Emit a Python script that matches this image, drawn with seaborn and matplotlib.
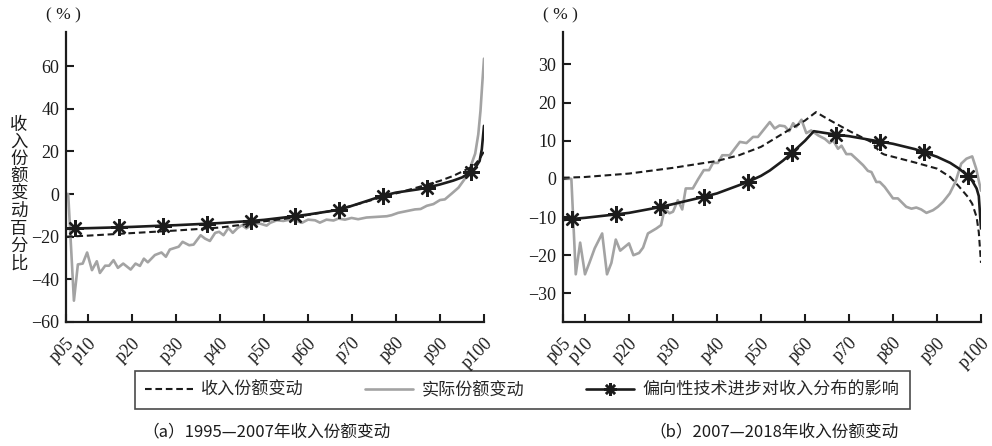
import numpy as np
import pandas as pd
import matplotlib
matplotlib.use('Agg')
import matplotlib.pyplot as plt
from matplotlib.lines import Line2D
import seaborn as sns

sns.set_style('ticks')
plt.rcParams.update({'font.family'      : ['Liberation Serif', 'DejaVu Serif', 'Noto Sans CJK SC'],
                     'font.size'        : 12,
                     'axes.linewidth'   : 1.6,
                     'axes.unicode_minus': True})
serif = ['Liberation Serif', 'DejaVu Serif']
cjk = ['Noto Sans CJK SC', 'Liberation Serif']

# ---- data (percentile, % change) ----
# (a) 1995-2007
a_share_p = [5, 7, 10, 15, 20, 25, 30, 35, 40, 45, 50, 55, 60, 65, 70, 75, 80, 85, 90, 93, 95, 97, 98, 99, 100]
a_share_v = [-20, -19.8, -19.5, -18.9, -18.3, -17.7, -17.1, -16.4, -15.7, -14.4, -12.8, -11.5, -9.8, -8,
             -5.5, -2.5, 0.3, 3.2, 6.2, 8.5, 10.5, 12.5, 14, 16.5, 20]

a_real_p = [5, 5.5, 6.8, 7.7, 8.8, 9.8, 10.9, 12, 12.7, 13.9, 14.8, 15.8, 16.8, 18, 19.7, 20.8, 21.8, 22.7,
            23.6, 25.2, 26.7, 27.7, 28.6, 30.6, 31.5, 33, 34, 35.6, 36.6, 37.7, 38.9, 39.8, 40.8, 41.9,
            42.9, 44, 45, 46, 47.6, 49, 50.6, 51.4, 52.9, 54.4, 55.9, 57.4, 58.6, 60, 61.6, 62.7, 64.2,
            65.8, 66.9, 68.4, 69.9, 71.4, 73.3, 75.6, 77.9, 79, 80.5, 82.4, 84.3, 85.6, 87, 88.5, 90,
            91.1, 92.7, 94.2, 95.7, 96.8, 98, 98.7, 99.2, 99.6, 100]
a_real_v = [0, 0, -50, -33, -32.6, -27.4, -35.7, -31.5, -37, -33.6, -33.6, -31, -34.6, -32.6, -35.4, -32.6,
            -33.7, -30.3, -32, -28.6, -27.4, -29.4, -26, -24.7, -22.4, -24, -23.7, -19.3, -20.9, -22,
            -18.2, -17.7, -19.3, -15.9, -18.2, -15.9, -14.6, -16.1, -13.8, -13.8, -14.8, -13.5, -12.3,
            -12.6, -12, -12.6, -13.5, -12, -12.3, -13.4, -12, -12.4, -11.5, -12, -11.2, -11.8, -11, -10.7,
            -10.4, -9.9, -8.8, -8, -7.2, -7, -5.5, -4.7, -2.8, -2.5, 0.3, 3, 7.3, 12, 19, 28, 39, 51.6, 63.5]

a_tech_p = [5, 7, 10, 17, 20, 27, 30, 37, 40, 47, 50, 57, 60, 67, 70, 73, 77, 80, 85, 87, 90, 93, 95, 97,
            98, 99, 99.5, 100]
a_tech_v = [-16.3, -16.1, -16, -15.6, -15.4, -14.8, -14.6, -13.9, -13.6, -12.6, -12.1, -10.4, -9.6, -7.4,
            -5.5, -3.5, -0.8, 0.7, 2.2, 3, 4.5, 6.3, 7.8, 10.3, 12.3, 15.5, 21, 32]

# (b) 2007-2018
b_share_p = [5, 10, 20, 30, 40, 45, 50, 55, 60, 62.5, 65, 70, 75, 76, 77, 78, 80, 85, 90, 93, 95, 97, 98,
             99, 99.5, 100]
b_share_v = [0.3, 0.5, 1.4, 2.9, 4.7, 6.2, 8.4, 11.9, 15.3, 17.5, 15.8, 12.6, 9.7, 8.5, 7, 6.4, 5.8, 4.3,
             2.7, 0.5, -2, -4.7, -6.5, -10, -14, -22]

b_real_p = [5, 6.9, 7.9, 8.9, 10, 11, 12.2, 13.9, 15, 16, 17, 18, 20, 21, 22.3, 23.2, 24.3, 26.2, 27.3,
            28.1, 29.2, 30, 31.1, 32.1, 32.9, 34.5, 35.7, 37, 38.2, 39.1, 40.2, 41.2, 42.9, 45.2, 46.7,
            48.2, 49.3, 52, 53.1, 54.2, 55.4, 56.4, 57.3, 58, 59.2, 60.3, 61.4, 63, 64.5, 65.6, 66.4,
            67.5, 68.3, 69.4, 70.5, 72, 73.2, 74.3, 75.1, 76.2, 77, 78.1, 80, 81.1, 83, 84.2, 85.3, 86.4,
            87.6, 89.1, 90.2, 91.4, 92.9, 94.2, 95.5, 96.7, 98, 98.9, 100]
b_real_v = [0.3, 0, -25, -16.7, -25, -22, -18.2, -14.3, -25, -22, -15.9, -18.8, -16.9, -20, -19.4, -18,
            -14.3, -13, -12.1, -7.8, -9, -8.6, -5.6, -8, -2.5, -2.5, -0.1, 2.3, 2.3, 4.2, 4.2, 6.2, 6.2,
            9.7, 9.4, 11, 11, 14.9, 13.2, 14, 13.8, 12.5, 14.6, 13.6, 15.5, 12, 12.7, 11.4, 10.5, 9.4,
            10.1, 7.9, 8.7, 6.5, 6.5, 4.9, 3.6, 2.1, 1.8, -0.8, -0.8, -2.1, -5.1, -5.1, -7.3, -7.8, -7.5,
            -8, -8.9, -8.2, -7.3, -6, -3.8, -0.8, 4, 5.3, 5.9, 2.7, -3.1]

b_tech_p = [5, 7, 10, 17, 20, 27, 30, 37, 40, 47, 50, 52, 55, 57, 60, 62, 67, 70, 77, 80, 85, 87, 90, 93,
            95, 97, 98, 99, 99.5, 100]
b_tech_v = [-10.8, -10.5, -10.2, -9.3, -8.9, -7.4, -6.6, -4.7, -3.8, -0.8, 0.8, 2.2, 4.8, 6.8, 10, 12.5,
            11.6, 11.2, 9.8, 9.2, 7.8, 7, 5.8, 4.2, 2.7, 0.8, -0.5, -2.5, -4.5, -13]

marker_p = [7, 17, 27, 37, 47, 57, 67, 77, 87, 97]
xticks = [5, 10, 20, 30, 40, 50, 60, 70, 80, 90, 100]
xlabels = ['p05', 'p10', 'p20', 'p30', 'p40', 'p50', 'p60', 'p70', 'p80', 'p90', 'p100']

labels = ['收入份额变动', '实际份额变动', '偏向性技术进步对收入分布的影响']
captions = ['（a）1995—2007年收入份额变动', '（b）2007—2018年收入份额变动']

gray = '#a3a3a3'
dark = '#1c1c1c'
star = (8, 2, 0)

fig = plt.figure(figsize=(9.92, 4.46), dpi=100)
ax_a = fig.add_axes([66/992, 124/446, 418/992, 290/446])
ax_b = fig.add_axes([563/992, 124/446, 418/992, 290/446])

panels = [
    (ax_a, a_share_p, a_share_v, a_real_p, a_real_v, a_tech_p, a_tech_v, (-60, 76), [-60, -40, -20, 0, 20, 40, 60]),
    (ax_b, b_share_p, b_share_v, b_real_p, b_real_v, b_tech_p, b_tech_v, (-37.5, 38.5), [-30, -20, -10, 0, 10, 20, 30]),
]

for ax, sp, sv, rp, rv, tp, tv, ylim, yticks in panels:
    sns.lineplot(x=rp, y=rv, ax=ax, color=gray, lw=1.9, sort=False, estimator=None)
    sns.lineplot(x=sp, y=sv, ax=ax, color=dark, lw=1.5, ls=(0, (3.2, 1.8)), sort=False, estimator=None)
    mk = [i for i, p in enumerate(tp) if p in marker_p]
    sns.lineplot(x=tp, y=tv, ax=ax, color=dark, lw=1.9, sort=False, estimator=None,
                 marker=star, markersize=12, markeredgewidth=1.7, markeredgecolor=dark, markevery=mk)
    ax.set_xlim(5, 100)
    ax.set_ylim(*ylim)
    ax.set_yticks(yticks)
    ax.set_xticks(xticks)
    ax.set_xticklabels(xlabels, rotation=45, ha='right', va='top', rotation_mode='anchor')
    ax.tick_params(direction='in', length=6, width=1.5, labelsize=13, colors=dark, pad=5)
    ax.tick_params(axis='x', pad=9)
    for lbl in ax.get_xticklabels() + ax.get_yticklabels():
        lbl.set_family(serif)
    for s in ['top', 'right']:
        ax.spines[s].set_visible(False)
    for s in ['left', 'bottom']:
        ax.spines[s].set_color(dark)
    ax.set_xlabel('')
    ax.set_ylabel('')

fig.text(63/992, 1 - 15/446, '( % )', ha='center', va='center', fontsize=12.5, family=serif, color=dark)
fig.text(560/992, 1 - 15/446, '( % )', ha='center', va='center', fontsize=12.5, family=serif, color=dark)

fig.text(19/992, 1 - 194/446, '\n'.join('收入份额变动百分比'), ha='center', va='center',
         fontsize=12.5, family=cjk, linespacing=0.95, color=dark)

handles = [Line2D([], [], color=dark, lw=1.5, ls=(0, (3.2, 1.8))),
           Line2D([], [], color=gray, lw=1.9),
           Line2D([], [], color=dark, lw=1.9, marker=star, markersize=9, markeredgewidth=1.8)]
leg = fig.legend(handles, labels, loc='center', bbox_to_anchor=(522/992, 1 - 390/446), ncol=3,
                 frameon=True, fancybox=False, edgecolor=dark, handlelength=2.8, handletextpad=0.5,
                 columnspacing=3.6, borderpad=0.6, borderaxespad=0, prop={'family': cjk, 'size': 12.3})
leg.get_frame().set_linewidth(1.2)

fig.text(267/992, 1 - 432/446, captions[0], ha='center', va='center', fontsize=12, family=cjk, color=dark)
fig.text(774/992, 1 - 432/446, captions[1], ha='center', va='center', fontsize=12, family=cjk, color=dark)

fig.savefig('out.png', dpi=100)
